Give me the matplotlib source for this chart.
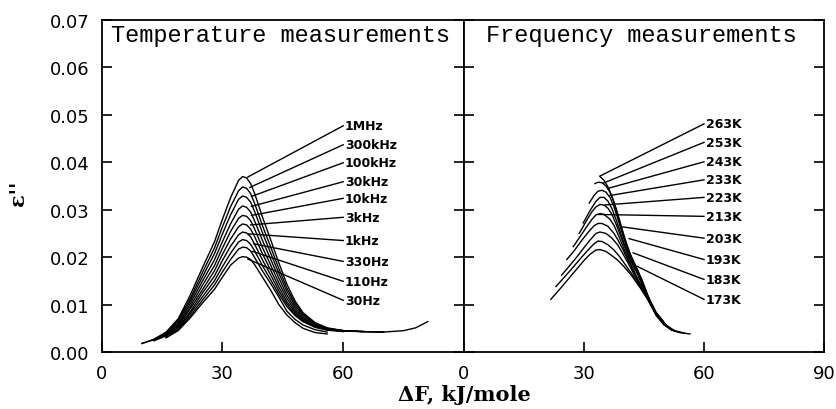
import numpy as np
import matplotlib
matplotlib.use("Agg")
import matplotlib.pyplot as plt

nan = np.nan

# ---------------- Temperature measurements (left panel) ----------------
x_temp = [10, 13, 16, 19, 22, 25, 28, 30, 32, 34, 35, 36, 37, 38, 40, 42, 44, 46,
          48, 50, 53, 56, 60, 65, 70, 75, 78, 81]

freq_labels = ["1MHz", "300kHz", "100kHz", "30kHz", "10kHz", "3kHz", "1kHz",
               "330Hz", "110Hz", "30Hz"]

eps_1MHz = [.0018, .0027, .0042, .0070, .0120, .0177, .0232, .0280, .0325, .0362, .0370, .0367, .0355, .0334,
            .0283, .0236, .0188, .0143, .0108, .0083, .0062, .0051, .0045, .0043, .0042, .0045, .0051, .0064]
eps_300kHz = [.0018, .0026, .0040, .0067, .0113, .0167, .0219, .0264, .0306, .0340, .0348, .0345, .0334, .0313,
              .0265, .0221, .0176, .0135, .0103, .0080, .0060, .0050, .0045, .0043, .0042, nan, nan, nan]
eps_100kHz = [nan, .0026, .0039, .0064, .0108, .0158, .0207, .0249, .0289, .0322, .0329, .0326, .0316, .0296,
              .0250, .0208, .0166, .0128, .0098, .0077, .0058, .0049, .0045, .0043, .0042, nan, nan, nan]
eps_30kHz = [nan, .0025, .0037, .0060, .0102, .0149, .0194, .0233, .0270, .0301, .0308, .0305, .0295, .0276,
             .0234, .0195, .0156, .0120, .0093, .0073, .0057, .0048, .0045, .0043, nan, nan, nan, nan]
eps_10kHz = [nan, .0024, .0036, .0057, .0096, .0140, .0182, .0219, .0254, .0282, .0288, .0286, .0277, .0259,
             .0219, .0183, .0146, .0113, .0088, .0070, .0055, .0048, .0044, .0043, nan, nan, nan, nan]
eps_3kHz = [nan, .0024, .0034, .0055, .0091, .0131, .0171, .0206, .0238, .0264, .0270, .0268, .0259, .0243,
            .0206, .0172, .0137, .0106, .0084, .0067, .0054, .0047, .0044, nan, nan, nan, nan, nan]
eps_1kHz = [nan, nan, .0033, .0052, .0085, .0124, .0160, .0193, .0223, .0247, .0253, .0251, .0243, .0227,
            .0193, .0162, .0129, .0101, .0080, .0065, .0053, .0047, .0044, nan, nan, nan, nan, nan]
eps_330Hz = [nan, nan, .0032, .0049, .0081, .0116, .0150, .0180, .0208, .0232, .0237, .0235, .0227, .0213,
             .0181, .0152, .0122, .0096, .0077, .0064, .0052, .0046, .0043, nan, nan, nan, nan, nan]
eps_110Hz = [nan, nan, .0031, .0047, .0076, .0109, .0141, .0169, .0195, .0217, .0221, .0220, .0213, .0199,
             .0170, .0144, .0116, .0086, .0069, .0057, .0047, .0042, nan, nan, nan, nan, nan, nan]
eps_30Hz = [nan, nan, .0030, .0045, .0072, .0103, .0132, .0158, .0183, .0198, .0201, .0200, .0195, .0184,
            .0157, .0130, .0100, .0078, .0062, .0050, .0041, .0038, nan, nan, nan, nan, nan, nan]

temp_series = [eps_1MHz, eps_300kHz, eps_100kHz, eps_30kHz, eps_10kHz, eps_3kHz,
               eps_1kHz, eps_330Hz, eps_110Hz, eps_30Hz]

# leader anchors (on curves) and label positions
freq_anchor_x = [36.3, 36.8, 37.2, 37.2, 37.2, 37.0, 36.5, 37.8, 37.5, 36.3]
freq_anchor_y = [.0369, .0347, .0328, .0307, .0288, .0268, .0249, .0228, .0212, .0196]
freq_label_y = [.0477, .0437, .0399, .0359, .0324, .0284, .0235, .0191, .0149, .0109]

# ---------------- Frequency measurements (right panel) ----------------
temp_labels = ["263K", "253K", "243K", "233K", "223K", "213K", "203K", "193K", "183K", "173K"]

x_263K = [34, 35, 36, 37, 38, 39, 40, 41, 42, 43.5, 45, 46.5, 48, 50]
y_263K = [.0370, .0362, .0348, .0328, .0302, .0272, .0243, .0218, .0196, .0170, .0138, .0108, .0084, .0063]
x_253K = [32.75, 33.5, 34.5, 35.5, 36.5, 37.5, 38.5, 39.5, 40.5, 41.5, 43, 44.5, 46, 48, 50, 51]
y_253K = [.0355, .0358, .0357, .0350, .0337, .0316, .0289, .0260, .0232, .0208, .0180, .0152, .0118, .0083, .0062, .0053]
x_243K = [31.3, 32.5, 33.5, 34.5, 35.5, 36.5, 37.5, 38.5, 39.5, 40.5, 41.5, 43, 44.5, 46, 48, 50, 51.5]
y_243K = [.0314, .0330, .0339, .0341, .0337, .0326, .0306, .0280, .0252, .0225, .0202, .0177, .0150, .0117, .0082, .0061, .0049]
x_233K = [29.8, 31.5, 33, 34, 35, 36, 37, 38, 39, 40, 41, 42, 43.5, 46, 48, 50, 52]
y_233K = [.0272, .0298, .0318, .0326, .0326, .0318, .0302, .0280, .0255, .0229, .0206, .0188, .0163, .0115, .0081, .0060, .0046]
x_223K = [28.8, 30.5, 32, 33, 34, 35, 36, 37, 38, 39, 40, 41, 42, 43.5, 46, 48, 50, 52]
y_223K = [.0250, .0275, .0296, .0306, .0311, .0310, .0303, .0290, .0270, .0248, .0226, .0204, .0187, .0163, .0114, .0080, .0060, .0046]
x_213K = [27.3, 29, 30.5, 32, 33, 34, 35, 36.5, 37.5, 38.5, 39.5, 40.5, 41.5, 43, 44, 46, 48, 50, 52.5]
y_213K = [.0222, .0243, .0262, .0280, .0289, .0292, .0290, .0280, .0267, .0248, .0228, .0207, .0189, .0162, .0145, .0112, .0079, .0059, .0045]
x_203K = [25.7, 27.5, 29.5, 31, 32.5, 33.5, 34.5, 36, 37.5, 38.5, 39.5, 40.5, 41.5, 43, 44, 46, 48, 50, 53]
y_203K = [.0195, .0213, .0236, .0252, .0266, .0271, .0271, .0265, .0250, .0236, .0220, .0202, .0186, .0160, .0143, .0112, .0079, .0059, .0043]
x_193K = [24.4, 26, 28, 30, 31.5, 33, 34, 35.5, 37, 38.5, 40, 41, 42, 43, 44, 46, 48, 50, 52, 54]
y_193K = [.0162, .0178, .0198, .0220, .0236, .0250, .0253, .0250, .0240, .0225, .0203, .0188, .0172, .0155, .0141, .0111, .0078, .0058, .0047, .0041]
x_183K = [23, 25, 27, 29, 31, 32.5, 33.5, 34.5, 36, 37.5, 39, 40.5, 42, 43, 44, 46, 48, 50, 52, 55]
y_183K = [.0138, .0157, .0176, .0196, .0215, .0228, .0234, .0233, .0226, .0215, .0200, .0182, .0164, .0150, .0138, .0110, .0078, .0057, .0046, .0040]
x_173K = [21.7, 24, 26, 28, 30, 31.5, 33, 34, 35.5, 37, 38.5, 40, 41, 42, 43, 44, 46, 48, 50, 52, 54, 56.5]
y_173K = [.0111, .0133, .0153, .0173, .0193, .0206, .0215, .0216, .0212, .0203, .0193, .0180, .0170, .0160, .0148, .0136, .0110, .0080, .0058, .0046, .0041, .0038]

freq_series_x = [x_263K, x_253K, x_243K, x_233K, x_223K, x_213K, x_203K, x_193K, x_183K, x_173K]
freq_series_y = [y_263K, y_253K, y_243K, y_233K, y_223K, y_213K, y_203K, y_193K, y_183K, y_173K]

temp_anchor_x = [34.0, 34.8, 36.0, 36.5, 35.3, 33.6, 39.4, 41.3, 42.3, 43.2]
temp_anchor_y = [.0371, .0356, .0345, .0330, .0310, .0290, .0264, .0239, .0209, .0181]
temp_label_y = [.0481, .0442, .0401, .0363, .0326, .0286, .0240, .0195, .0153, .0111]

y_ticks = [0.00, 0.01, 0.02, 0.03, 0.04, 0.05, 0.06, 0.07]
left_xticks = [0, 30, 60]
right_xticks = [0, 30, 60, 90]

# ---------------- drawing ----------------
W, H = 837, 410
fig = plt.figure(figsize=(W / 100, H / 100), dpi=100)
ax1 = fig.add_axes([101.7 / W, 1 - 353 / H, (464 - 101.7) / W, (353 - 21) / H])
ax2 = fig.add_axes([464 / W, 1 - 353 / H, (824 - 464) / W, (353 - 21) / H], sharey=ax1)

lw = 1.0
leader_end = 60.0
label_x = 60.4

for ys in temp_series:
    ax1.plot(x_temp, ys, color="black", lw=lw)
for ax_x, ax_y, ly, lab in zip(freq_anchor_x, freq_anchor_y, freq_label_y, freq_labels):
    ax1.plot([ax_x, leader_end], [ax_y, ly], color="black", lw=lw)
    ax1.text(label_x, ly, lab, fontsize=9, fontweight="bold", family="DejaVu Sans",
             va="center", ha="left")

for xs, ys in zip(freq_series_x, freq_series_y):
    ax2.plot(xs, ys, color="black", lw=lw)
for ax_x, ax_y, ly, lab in zip(temp_anchor_x, temp_anchor_y, temp_label_y, temp_labels):
    ax2.plot([ax_x, leader_end], [ax_y, ly], color="black", lw=lw)
    ax2.text(label_x, ly, lab, fontsize=9, fontweight="bold", family="DejaVu Sans",
             va="center", ha="left")

for ax in (ax1, ax2):
    ax.set_xlim(0, 90)
    ax.set_ylim(0, 0.07)
    for s in ax.spines.values():
        s.set_linewidth(1.3)
    ax.tick_params(direction="in", length=7, width=1.2, labelsize=13, pad=9)

ax1.set_yticks(y_ticks)
ax1.set_yticklabels([f"{v:.2f}" for v in y_ticks])
ax1.set_xticks(left_xticks)
ax1.set_xticklabels([str(v) for v in left_xticks])
ax1.tick_params(axis="y", left=True, right=True, labelleft=True, labelright=False)
ax1.tick_params(axis="x", top=False, bottom=True)

ax2.set_xticks(right_xticks)
ax2.set_xticklabels([str(v) for v in right_xticks])
ax2.tick_params(axis="y", left=True, right=True, labelleft=False, labelright=False)
ax2.tick_params(axis="x", top=False, bottom=True)

ax1.text(0.027, 0.955, "Temperature measurements", transform=ax1.transAxes,
         family="Liberation Mono", fontsize=17, va="center", ha="left")
ax2.text(0.06, 0.955, "Frequency measurements", transform=ax2.transAxes,
         family="Liberation Mono", fontsize=17, va="center", ha="left")

fig.text(464 / W, 1 - 395 / H, "ΔF, kJ/mole", family="DejaVu Serif", fontweight="bold",
         fontsize=15, ha="center", va="center")
fig.text(18 / W, 1 - 193 / H, "ε''", family="DejaVu Serif", fontweight="bold",
         fontsize=15, ha="center", va="center", rotation=90)

fig.savefig("out.png", dpi=100)
